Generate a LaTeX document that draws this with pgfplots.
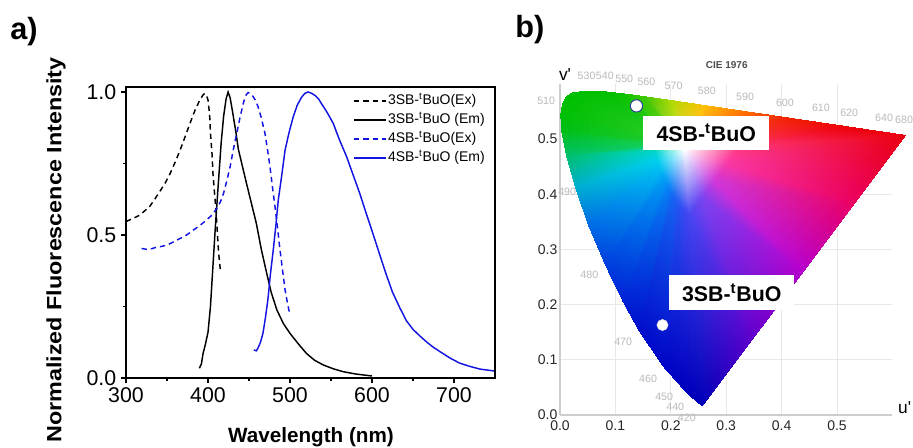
\documentclass[border=0pt]{standalone}
\usepackage{graphicx}
\usepackage{pgfplots}
\pgfplotsset{compat=1.18}
\usepackage{pgfplotstable}
\usepackage{fontspec}
\setmainfont{Liberation Sans}
\definecolor{blueL}{RGB}{20,20,225}
\definecolor{wlgray}{RGB}{185,185,185}
\definecolor{gridg}{RGB}{232,232,232}
\definecolor{axg}{RGB}{205,205,205}

\pgfplotstableread{
x y
300 0.547
310 0.560
317 0.570
323 0.585
329 0.600
335 0.625
341 0.651
348 0.683
354 0.716
360 0.755
366 0.797
372 0.843
378 0.890
384 0.935
390 0.972
394 0.990
396 0.995
398 0.990
400 0.972
402 0.920
403 0.855
405 0.780
406 0.716
408 0.645
410 0.576
412 0.480
413 0.436
415 0.378
}\exThree

\pgfplotstableread{
x y
389.5 0.034
392 0.050
394 0.086
397 0.120
400 0.160
403 0.250
406 0.390
409 0.530
412.6 0.680
416 0.820
419 0.914
422 0.975
424.5 1.000
427 0.980
430 0.930
434 0.860
437 0.800
442 0.740
447 0.680
453 0.610
459 0.540
465 0.450
471.6 0.366
477 0.300
484 0.238
492 0.190
500 0.156
510 0.120
520 0.086
530 0.062
541 0.045
553 0.032
565 0.022
580 0.014
600 0.007
}\emThree

\pgfplotstableread{
x y
319 0.453
325 0.450
331 0.452
337 0.457
343 0.460
350 0.465
358 0.476
366 0.488
374 0.500
382 0.517
390 0.533
398 0.552
405 0.570
410.6 0.593
415 0.615
419 0.646
423 0.690
427 0.739
431 0.800
435 0.855
439 0.910
443 0.960
446 0.988
449 0.998
452 0.995
455 0.984
458 0.970
461 0.949
465 0.910
469.5 0.855
472.5 0.800
475.6 0.739
478.5 0.670
481.7 0.599
485 0.520
487.8 0.448
491 0.375
494 0.308
497 0.260
500 0.220
}\exFour

\pgfplotstableread{
x y
456 0.098
459 0.095
461 0.105
464 0.125
467 0.156
470 0.210
473 0.273
476 0.360
479.6 0.448
483 0.540
485.7 0.622
490 0.710
494 0.797
499 0.860
504 0.914
509 0.955
514 0.981
518 0.995
522 1.000
526 0.996
530.5 0.988
535 0.975
538.7 0.958
545 0.930
552.8 0.890
560 0.835
569 0.774
577 0.710
585 0.646
593 0.575
601 0.506
609 0.435
617 0.365
625 0.300
634 0.245
642 0.200
650 0.170
658 0.148
667 0.125
675 0.107
683 0.092
695 0.070
707 0.052
720 0.040
732 0.031
740 0.028
750 0.024
}\emFour

% CIE 1976 u'v' colour fill as triangles (outer locus, inner ring, white centre)
\pgfplotstableread{
x y c
0.2568 0.0166 rgb=0,0,0.72
0.2347 0.0350 rgb=0,0,0.74
0.2274 0.3688 rgb=0.25,0.28,0.95
0.2568 0.0166 rgb=0,0,0.72
0.2274 0.3688 rgb=0.25,0.28,0.95
0.2330 0.3642 rgb=0.28,0.28,0.95
0.2250 0.4800 rgb=1,1,1
0.2330 0.3642 rgb=0.28,0.28,0.95
0.2274 0.3688 rgb=0.25,0.28,0.95
0.2347 0.0350 rgb=0,0,0.74
0.2161 0.0549 rgb=0,0,0.76
0.2228 0.3737 rgb=0.22,0.30,0.95
0.2347 0.0350 rgb=0,0,0.74
0.2228 0.3737 rgb=0.22,0.30,0.95
0.2274 0.3688 rgb=0.25,0.28,0.95
0.2250 0.4800 rgb=1,1,1
0.2274 0.3688 rgb=0.25,0.28,0.95
0.2228 0.3737 rgb=0.22,0.30,0.95
0.2161 0.0549 rgb=0,0,0.76
0.1877 0.0871 rgb=0,0.02,0.78
0.2157 0.3818 rgb=0.15,0.33,0.95
0.2161 0.0549 rgb=0,0,0.76
0.2157 0.3818 rgb=0.15,0.33,0.95
0.2228 0.3737 rgb=0.22,0.30,0.95
0.2250 0.4800 rgb=1,1,1
0.2228 0.3737 rgb=0.22,0.30,0.95
0.2157 0.3818 rgb=0.15,0.33,0.95
0.1877 0.0871 rgb=0,0.02,0.78
0.1441 0.1510 rgb=0,0.05,0.80
0.2048 0.3978 rgb=0.08,0.40,0.95
0.1877 0.0871 rgb=0,0.02,0.78
0.2048 0.3978 rgb=0.08,0.40,0.95
0.2157 0.3818 rgb=0.15,0.33,0.95
0.2250 0.4800 rgb=1,1,1
0.2157 0.3818 rgb=0.15,0.33,0.95
0.2048 0.3978 rgb=0.08,0.40,0.95
0.1441 0.1510 rgb=0,0.05,0.80
0.1147 0.2044 rgb=0,0.13,0.84
0.1974 0.4111 rgb=0.03,0.50,0.96
0.1441 0.1510 rgb=0,0.05,0.80
0.1974 0.4111 rgb=0.03,0.50,0.96
0.2048 0.3978 rgb=0.08,0.40,0.95
0.2250 0.4800 rgb=1,1,1
0.2048 0.3978 rgb=0.08,0.40,0.95
0.1974 0.4111 rgb=0.03,0.50,0.96
0.1147 0.2044 rgb=0,0.13,0.84
0.0828 0.2708 rgb=0,0.24,0.87
0.1895 0.4277 rgb=0,0.62,0.96
0.1147 0.2044 rgb=0,0.13,0.84
0.1895 0.4277 rgb=0,0.62,0.96
0.1974 0.4111 rgb=0.03,0.50,0.96
0.2250 0.4800 rgb=1,1,1
0.1974 0.4111 rgb=0.03,0.50,0.96
0.1895 0.4277 rgb=0,0.62,0.96
0.0828 0.2708 rgb=0,0.24,0.87
0.0521 0.3427 rgb=0,0.42,0.90
0.1818 0.4457 rgb=0,0.75,0.95
0.0828 0.2708 rgb=0,0.24,0.87
0.1818 0.4457 rgb=0,0.75,0.95
0.1895 0.4277 rgb=0,0.62,0.96
0.2250 0.4800 rgb=1,1,1
0.1895 0.4277 rgb=0,0.62,0.96
0.1818 0.4457 rgb=0,0.75,0.95
0.0521 0.3427 rgb=0,0.42,0.90
0.0282 0.4117 rgb=0,0.68,0.82
0.1758 0.4629 rgb=0,0.82,0.92
0.0521 0.3427 rgb=0,0.42,0.90
0.1758 0.4629 rgb=0,0.82,0.92
0.1818 0.4457 rgb=0,0.75,0.95
0.2250 0.4800 rgb=1,1,1
0.1818 0.4457 rgb=0,0.75,0.95
0.1758 0.4629 rgb=0,0.82,0.92
0.0282 0.4117 rgb=0,0.68,0.82
0.0119 0.4698 rgb=0,0.75,0.42
0.1717 0.4775 rgb=0,0.84,0.80
0.0282 0.4117 rgb=0,0.68,0.82
0.1717 0.4775 rgb=0,0.84,0.80
0.1758 0.4629 rgb=0,0.82,0.92
0.2250 0.4800 rgb=1,1,1
0.1758 0.4629 rgb=0,0.82,0.92
0.1717 0.4775 rgb=0,0.84,0.80
0.0119 0.4698 rgb=0,0.75,0.42
0.0035 0.5131 rgb=0,0.75,0.10
0.1696 0.4883 rgb=0.08,0.82,0.35
0.0119 0.4698 rgb=0,0.75,0.42
0.1696 0.4883 rgb=0.08,0.82,0.35
0.1717 0.4775 rgb=0,0.84,0.80
0.2250 0.4800 rgb=1,1,1
0.1717 0.4775 rgb=0,0.84,0.80
0.1696 0.4883 rgb=0.08,0.82,0.35
0.0035 0.5131 rgb=0,0.75,0.10
0.0014 0.5432 rgb=0,0.75,0.02
0.1691 0.4958 rgb=0.12,0.80,0.18
0.0035 0.5131 rgb=0,0.75,0.10
0.1691 0.4958 rgb=0.12,0.80,0.18
0.1696 0.4883 rgb=0.08,0.82,0.35
0.2250 0.4800 rgb=1,1,1
0.1696 0.4883 rgb=0.08,0.82,0.35
0.1691 0.4958 rgb=0.12,0.80,0.18
0.0014 0.5432 rgb=0,0.75,0.02
0.0046 0.5638 rgb=0,0.75,0
0.1699 0.5010 rgb=0.15,0.80,0.15
0.0014 0.5432 rgb=0,0.75,0.02
0.1699 0.5010 rgb=0.15,0.80,0.15
0.1691 0.4958 rgb=0.12,0.80,0.18
0.2250 0.4800 rgb=1,1,1
0.1691 0.4958 rgb=0.12,0.80,0.18
0.1699 0.5010 rgb=0.15,0.80,0.15
0.0046 0.5638 rgb=0,0.75,0
0.0123 0.5770 rgb=0,0.75,0
0.1718 0.5043 rgb=0.15,0.80,0.15
0.0046 0.5638 rgb=0,0.75,0
0.1718 0.5043 rgb=0.15,0.80,0.15
0.1699 0.5010 rgb=0.15,0.80,0.15
0.2250 0.4800 rgb=1,1,1
0.1699 0.5010 rgb=0.15,0.80,0.15
0.1718 0.5043 rgb=0.15,0.80,0.15
0.0123 0.5770 rgb=0,0.75,0
0.0231 0.5837 rgb=0,0.75,0
0.1745 0.5059 rgb=0.15,0.80,0.15
0.0123 0.5770 rgb=0,0.75,0
0.1745 0.5059 rgb=0.15,0.80,0.15
0.1718 0.5043 rgb=0.15,0.80,0.15
0.2250 0.4800 rgb=1,1,1
0.1718 0.5043 rgb=0.15,0.80,0.15
0.1745 0.5059 rgb=0.15,0.80,0.15
0.0231 0.5837 rgb=0,0.75,0
0.0501 0.5868 rgb=0,0.75,0
0.1813 0.5067 rgb=0.15,0.80,0.15
0.0231 0.5837 rgb=0,0.75,0
0.1813 0.5067 rgb=0.15,0.80,0.15
0.1745 0.5059 rgb=0.15,0.80,0.15
0.2250 0.4800 rgb=1,1,1
0.1745 0.5059 rgb=0.15,0.80,0.15
0.1813 0.5067 rgb=0.15,0.80,0.15
0.0501 0.5868 rgb=0,0.75,0
0.0792 0.5856 rgb=0,0.75,0
0.1885 0.5064 rgb=0.15,0.80,0.15
0.0501 0.5868 rgb=0,0.75,0
0.1885 0.5064 rgb=0.15,0.80,0.15
0.1813 0.5067 rgb=0.15,0.80,0.15
0.2250 0.4800 rgb=1,1,1
0.1813 0.5067 rgb=0.15,0.80,0.15
0.1885 0.5064 rgb=0.15,0.80,0.15
0.0792 0.5856 rgb=0,0.75,0
0.1127 0.5821 rgb=0.05,0.76,0
0.1969 0.5055 rgb=0.20,0.80,0.12
0.0792 0.5856 rgb=0,0.75,0
0.1969 0.5055 rgb=0.20,0.80,0.12
0.1885 0.5064 rgb=0.15,0.80,0.15
0.2250 0.4800 rgb=1,1,1
0.1885 0.5064 rgb=0.15,0.80,0.15
0.1969 0.5055 rgb=0.20,0.80,0.12
0.1127 0.5821 rgb=0.05,0.76,0
0.1531 0.5766 rgb=0.25,0.78,0
0.2070 0.5042 rgb=0.40,0.83,0.12
0.1127 0.5821 rgb=0.05,0.76,0
0.2070 0.5042 rgb=0.40,0.83,0.12
0.1969 0.5055 rgb=0.20,0.80,0.12
0.2250 0.4800 rgb=1,1,1
0.1969 0.5055 rgb=0.20,0.80,0.12
0.2070 0.5042 rgb=0.40,0.83,0.12
0.1531 0.5766 rgb=0.25,0.78,0
0.2026 0.5694 rgb=0.70,0.85,0
0.2194 0.5024 rgb=0.80,0.88,0.20
0.1531 0.5766 rgb=0.25,0.78,0
0.2194 0.5024 rgb=0.80,0.88,0.20
0.2070 0.5042 rgb=0.40,0.83,0.12
0.2250 0.4800 rgb=1,1,1
0.2070 0.5042 rgb=0.40,0.83,0.12
0.2194 0.5024 rgb=0.80,0.88,0.20
0.2026 0.5694 rgb=0.70,0.85,0
0.2623 0.5604 rgb=1,0.75,0
0.2343 0.5001 rgb=1,0.80,0.25
0.2026 0.5694 rgb=0.70,0.85,0
0.2343 0.5001 rgb=1,0.80,0.25
0.2194 0.5024 rgb=0.80,0.88,0.20
0.2250 0.4800 rgb=1,1,1
0.2194 0.5024 rgb=0.80,0.88,0.20
0.2343 0.5001 rgb=1,0.80,0.25
0.2623 0.5604 rgb=1,0.75,0
0.3315 0.5501 rgb=1,0.45,0
0.2516 0.4975 rgb=1,0.55,0.30
0.2623 0.5604 rgb=1,0.75,0
0.2516 0.4975 rgb=1,0.55,0.30
0.2343 0.5001 rgb=1,0.80,0.25
0.2250 0.4800 rgb=1,1,1
0.2343 0.5001 rgb=1,0.80,0.25
0.2516 0.4975 rgb=1,0.55,0.30
0.3315 0.5501 rgb=1,0.45,0
0.4035 0.5393 rgb=0.95,0.15,0
0.2696 0.4948 rgb=1,0.35,0.35
0.3315 0.5501 rgb=1,0.45,0
0.2696 0.4948 rgb=1,0.35,0.35
0.2516 0.4975 rgb=1,0.55,0.30
0.2250 0.4800 rgb=1,1,1
0.2516 0.4975 rgb=1,0.55,0.30
0.2696 0.4948 rgb=1,0.35,0.35
0.4035 0.5393 rgb=0.95,0.15,0
0.5203 0.5219 rgb=0.93,0,0.03
0.2988 0.4905 rgb=1,0.25,0.40
0.4035 0.5393 rgb=0.95,0.15,0
0.2988 0.4905 rgb=1,0.25,0.40
0.2696 0.4948 rgb=1,0.35,0.35
0.2250 0.4800 rgb=1,1,1
0.2696 0.4948 rgb=1,0.35,0.35
0.2988 0.4905 rgb=1,0.25,0.40
0.5203 0.5219 rgb=0.93,0,0.03
0.6234 0.5065 rgb=0.92,0,0.06
0.3246 0.4866 rgb=1,0.22,0.48
0.5203 0.5219 rgb=0.93,0,0.03
0.3246 0.4866 rgb=1,0.22,0.48
0.2988 0.4905 rgb=1,0.25,0.40
0.2250 0.4800 rgb=1,1,1
0.2988 0.4905 rgb=1,0.25,0.40
0.3246 0.4866 rgb=1,0.22,0.48
0.6234 0.5065 rgb=0.92,0,0.06
0.5317 0.3840 rgb=0.92,0,0.38
0.3017 0.4560 rgb=0.98,0.22,0.65
0.6234 0.5065 rgb=0.92,0,0.06
0.3017 0.4560 rgb=0.98,0.22,0.65
0.3246 0.4866 rgb=1,0.22,0.48
0.2250 0.4800 rgb=1,1,1
0.3246 0.4866 rgb=1,0.22,0.48
0.3017 0.4560 rgb=0.98,0.22,0.65
0.5317 0.3840 rgb=0.92,0,0.38
0.4401 0.2616 rgb=0.72,0,0.80
0.2788 0.4254 rgb=0.82,0.22,0.85
0.5317 0.3840 rgb=0.92,0,0.38
0.2788 0.4254 rgb=0.82,0.22,0.85
0.3017 0.4560 rgb=0.98,0.22,0.65
0.2250 0.4800 rgb=1,1,1
0.3017 0.4560 rgb=0.98,0.22,0.65
0.2788 0.4254 rgb=0.82,0.22,0.85
0.4401 0.2616 rgb=0.72,0,0.80
0.3485 0.1391 rgb=0.38,0,0.80
0.2559 0.3948 rgb=0.48,0.27,0.95
0.4401 0.2616 rgb=0.72,0,0.80
0.2559 0.3948 rgb=0.48,0.27,0.95
0.2788 0.4254 rgb=0.82,0.22,0.85
0.2250 0.4800 rgb=1,1,1
0.2788 0.4254 rgb=0.82,0.22,0.85
0.2559 0.3948 rgb=0.48,0.27,0.95
0.3485 0.1391 rgb=0.38,0,0.80
0.2568 0.0166 rgb=0,0,0.72
0.2330 0.3642 rgb=0.28,0.28,0.95
0.3485 0.1391 rgb=0.38,0,0.80
0.2330 0.3642 rgb=0.28,0.28,0.95
0.2559 0.3948 rgb=0.48,0.27,0.95
0.2250 0.4800 rgb=1,1,1
0.2559 0.3948 rgb=0.48,0.27,0.95
0.2330 0.3642 rgb=0.28,0.28,0.95
}\cietri

\begin{document}
\begin{tikzpicture}
\useasboundingbox (0,0) rectangle (684.75pt,335.25pt);

% ---------- panel a ----------
\begin{axis}[
  at={(94.5pt,51.75pt)}, anchor=south west,
  scale only axis, width=276.75pt, height=218.25pt,
  xmin=300, xmax=750, ymin=0, ymax=1.0175,
  axis lines=box,
  xtick={300,400,500,600,700}, ytick={0,0.5,1},
  minor x tick num=1, minor y tick num=1,
  xtick pos=bottom, ytick pos=left, tick align=outside,
  major tick length=3.75pt, minor tick length=2.25pt,
  tick style={black, line width=0.8pt},
  axis line style={black, line width=0.9pt},
  /pgf/number format/assume math mode=true,
  ticklabel style={font=\fontsize{16}{16}\selectfont},
  yticklabel={\pgfmathprintnumber[fixed,fixed zerofill,precision=1]{\tick}},
  xticklabel={\pgfmathprintnumber[fixed,precision=0]{\tick}},
  legend style={at={(0.615,0.980)}, anchor=north west, draw=none, fill=none,
    font=\fontsize{10.5}{11}\selectfont, row sep=2.25pt, inner sep=0pt,
    nodes={inner sep=1pt, text height=7.5pt, text depth=2.5pt}},
  legend cell align=left,
  legend image code/.code={\draw[#1] (0pt,0pt) -- (24pt,0pt);},
]
\addplot[black, line width=1.1pt, dash pattern=on 4pt off 3pt] table[x=x,y=y] {\exThree};
\addlegendentry{3SB-\textsuperscript{t}BuO(Ex)}
\addplot[black, line width=1.1pt] table[x=x,y=y] {\emThree};
\addlegendentry{3SB-\textsuperscript{t}BuO (Em)}
\addplot[blueL, line width=1.1pt, dash pattern=on 4pt off 3pt] table[x=x,y=y] {\exFour};
\addlegendentry{4SB-\textsuperscript{t}BuO(Ex)}
\addplot[blueL, line width=1.1pt] table[x=x,y=y] {\emFour};
\addlegendentry{4SB-\textsuperscript{t}BuO (Em)}
\end{axis}
% frame of panel a
\draw[black, line width=0.9pt] (94.5pt,51.75pt) rectangle (371.25pt,270pt);

\node[anchor=center, rotate=90, inner sep=0pt, font=\bfseries\fontsize{15.5}{16}\selectfont] at (42pt,147.75pt) {\scalebox{1.13}[1]{Normalized Fluorescence Intensity}};
\node[anchor=base, inner sep=0pt, font=\bfseries\fontsize{15.5}{16}\selectfont] at (233.25pt,3.4pt) {Wavelength (nm)};
\node[anchor=base west, inner sep=0pt, font=\bfseries\fontsize{23}{23}\selectfont] at (7.5pt,305.25pt) {a)};
\node[anchor=base west, inner sep=0pt, font=\bfseries\fontsize{23}{23}\selectfont] at (386.25pt,306.75pt) {b)};

% ---------- panel b ----------
\begin{axis}[
  at={(420pt,24pt)}, anchor=south west,
  scale only axis, width=249.3pt, height=248.4pt,
  xmin=0, xmax=0.6, ymin=0, ymax=0.6,
  clip=false,
  axis lines=left, axis line style={-, draw=axg, line width=0.8pt},
  xtick={0,0.1,0.2,0.3,0.4,0.5}, ytick={0,0.1,0.2,0.3,0.4,0.5},
  major tick length=0pt,
  grid=major, major grid style={draw=gridg, line width=0.6pt},
  /pgf/number format/assume math mode=true,
  xticklabel={\pgfmathprintnumber[fixed,fixed zerofill,precision=1]{\tick}},
  yticklabel={\pgfmathprintnumber[fixed,fixed zerofill,precision=1]{\tick}},
  ticklabel style={font=\fontsize{10.5}{11}\selectfont, text=black!85},
  xticklabel style={yshift=-0.5pt},
  yticklabel style={xshift=1.5pt},
]
\addplot[patch, patch type=triangle, shader=interp, mesh/color input=explicit]
  table[x=x, y=y, meta=c] {\cietri};

\addplot[only marks, mark=*, mark size=4.6pt,
  mark options={fill=white, draw={rgb,255:red,40;green,60;blue,150}, line width=0.7pt}]
  coordinates {(0.138,0.560)};
\addplot[only marks, mark=*, mark size=4.2pt,
  mark options={fill=white, draw=black!15, line width=0.4pt}]
  coordinates {(0.185,0.163)};

\node[fill=white, inner sep=0pt, minimum width=94.5pt, minimum height=25.5pt,
  font=\bfseries\fontsize{16}{16}\selectfont] at (axis cs:0.264,0.511) {4SB-\textsuperscript{t}BuO};
\node[fill=white, inner sep=0pt, minimum width=93.75pt, minimum height=26pt,
  font=\bfseries\fontsize{16}{16}\selectfont] at (axis cs:0.310,0.222) {3SB-\textsuperscript{t}BuO};

\begin{scope}[every node/.style={text=wlgray, font=\fontsize{8}{8}\selectfont, inner sep=0pt}]
\node at (axis cs:0.048,0.614) {530};
\node at (axis cs:0.081,0.614) {540};
\node at (axis cs:0.116,0.609) {550};
\node at (axis cs:0.156,0.604) {560};
\node at (axis cs:0.205,0.596) {570};
\node at (axis cs:0.265,0.588) {580};
\node at (axis cs:0.334,0.577) {590};
\node at (axis cs:0.406,0.566) {600};
\node at (axis cs:0.471,0.557) {610};
\node at (axis cs:0.522,0.548) {620};
\node at (axis cs:0.585,0.539) {640};
\node at (axis cs:0.621,0.534) {680};
\node at (axis cs:-0.025,0.569) {510};
\node at (axis cs:0.013,0.405) {490};
\node at (axis cs:0.053,0.254) {480};
\node at (axis cs:0.114,0.133) {470};
\node at (axis cs:0.159,0.066) {460};
\node at (axis cs:0.188,0.033) {450};
\node at (axis cs:0.208,0.014) {440};
\node at (axis cs:0.229,-0.006) {420};
\end{scope}

\node[anchor=west, inner sep=0pt, font=\fontsize{13}{13}\selectfont] at (axis cs:0.61,0.013) {u\textquotesingle};
\node[anchor=south, inner sep=0pt, font=\fontsize{13}{13}\selectfont] at (axis cs:0.009,0.605) {v\textquotesingle};
\node[inner sep=0pt, text=black!70, font=\bfseries\fontsize{7.5}{8}\selectfont] at (axis cs:0.301,0.634) {CIE 1976};
\end{axis}
\end{tikzpicture}
\end{document}
